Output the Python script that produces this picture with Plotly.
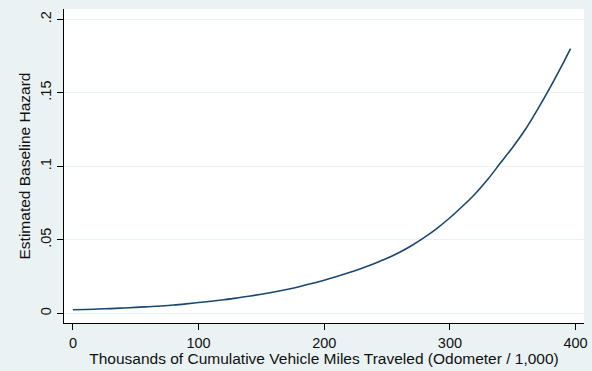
import plotly.graph_objects as go

# Values
miles_thousands = [0, 10, 20, 30, 40, 50, 60, 70, 80, 90, 100, 110, 120, 130, 140, 150,
                   160, 170, 180, 190, 200, 210, 220, 230, 240, 250, 260, 270, 280, 290,
                   300, 310, 320, 330, 340, 350, 360, 370, 380, 390, 396]
baseline_hazard = [0.0024, 0.0026, 0.0029, 0.0032, 0.0036, 0.0040, 0.0045, 0.0050, 0.0056,
                   0.0064, 0.0073, 0.0082, 0.0092, 0.0103, 0.0116, 0.0130, 0.0145, 0.0162,
                   0.0181, 0.0202, 0.0225, 0.0250, 0.0277, 0.0307, 0.0339, 0.0374, 0.0415,
                   0.0463, 0.0518, 0.0580, 0.0650, 0.0728, 0.0812, 0.0910, 0.1020, 0.1130,
                   0.1250, 0.1390, 0.1540, 0.1700, 0.1800]

y_tickvals = [0, 0.05, 0.1, 0.15, 0.2]
y_ticktext = ["0", ".05", ".1", ".15", ".2"]
x_tickvals = [0, 100, 200, 300, 400]
x_ticktext = ["0", "100", "200", "300", "400"]

FONT = "Liberation Sans, Arial, sans-serif"
TEXT = "#111111"

fig = go.Figure()
fig.add_trace(go.Scatter(
    x=miles_thousands, y=baseline_hazard, mode="lines",
    line=dict(color="#1A476F", width=1.6, shape="spline", smoothing=1.0),
    showlegend=False, hoverinfo="skip",
))

fig.update_layout(
    width=592, height=371,
    margin=dict(l=64, r=4, t=9, b=48),
    paper_bgcolor="#EAF2F3",
    plot_bgcolor="white",
    font=dict(family=FONT, size=14, color=TEXT),
)

fig.update_xaxes(
    range=[-7.1, 406.7],
    tickvals=x_tickvals, ticktext=x_ticktext,
    showgrid=False, zeroline=False,
    showline=True, linecolor="black", linewidth=1.2,
    ticks="outside", ticklen=6, tickwidth=1.2, tickcolor="black",
    tickfont=dict(family=FONT, size=14.5, color=TEXT),
    title=dict(text="Thousands of Cumulative Vehicle Miles Traveled (Odometer / 1,000)",
               font=dict(family=FONT, size=15.5, color=TEXT), standoff=0),
)

fig.update_yaxes(
    range=[-0.0066, 0.207],
    tickvals=y_tickvals, ticktext=y_ticktext, tickangle=-90,
    showgrid=True, gridcolor="#EAF2F3", gridwidth=1,
    zeroline=False,
    showline=True, linecolor="black", linewidth=1.2,
    ticks="outside", ticklen=6, tickwidth=1.2, tickcolor="black",
    tickfont=dict(family=FONT, size=14.5, color=TEXT),
    title=dict(text="Estimated Baseline Hazard",
               font=dict(family=FONT, size=15.5, color=TEXT), standoff=3),
)

fig.write_html("out.html")
